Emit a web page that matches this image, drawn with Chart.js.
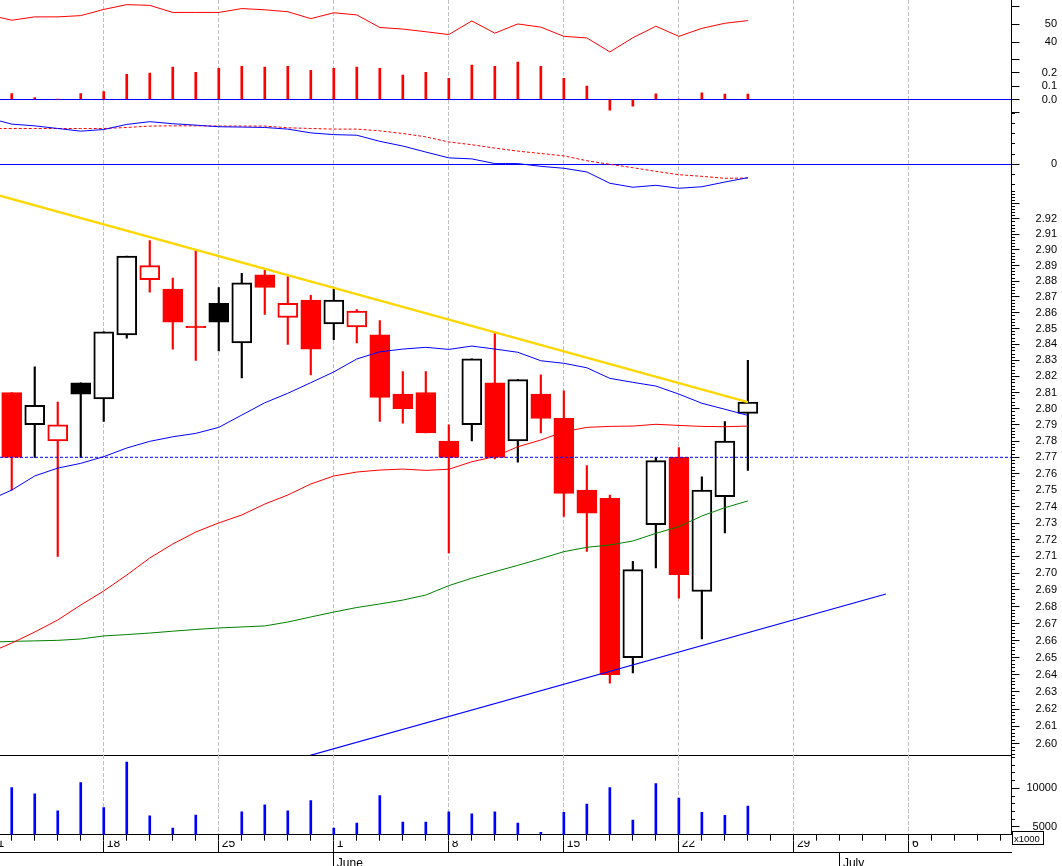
<!DOCTYPE html>
<html><head><meta charset="utf-8">
<script src="https://cdn.jsdelivr.net/npm/chart.js@4.4.1/dist/chart.umd.min.js"></script>
<style>
html,body{margin:0;padding:0;background:#fff;overflow:hidden;}
#wrap{position:relative;width:1062px;height:866px;overflow:hidden;background:#fff;}
#wrap canvas{position:absolute;left:0;}
#x1000{position:absolute;left:1012px;top:831px;width:29px;height:12px;border:1px solid #000;font:9.5px "Liberation Sans",Arial,sans-serif;line-height:13px;padding-left:1px;color:#000;box-sizing:content-box;white-space:nowrap;overflow:hidden;}
</style></head><body>
<div id="wrap">
<canvas id="cRsi" width="1062" height="100" style="top:0;width:1062px;height:100px"></canvas>
<canvas id="cHist" width="1062" height="130" style="top:0;width:1062px;height:130px"></canvas>
<canvas id="cMacd" width="1062" height="90" style="top:100px;width:1062px;height:90px"></canvas>
<canvas id="cPrice" width="1062" height="566" style="top:190px;width:1062px;height:566px"></canvas>
<canvas id="cVol" width="1062" height="111" style="top:755px;width:1062px;height:111px"></canvas>
<div id="x1000">x1000</div>
</div>
<script>
// ---------------- DATA ----------------
const priorDay = '2015-05-11';            // just off the left edge
const tradingDays = ['2015-05-12','2015-05-13','2015-05-14','2015-05-15','2015-05-18','2015-05-19','2015-05-20','2015-05-21','2015-05-22','2015-05-25','2015-05-26','2015-05-27','2015-05-28','2015-05-29','2015-06-01','2015-06-02','2015-06-03','2015-06-04','2015-06-05','2015-06-08','2015-06-09','2015-06-10','2015-06-11','2015-06-12','2015-06-15','2015-06-16','2015-06-17','2015-06-18','2015-06-19','2015-06-22','2015-06-23','2015-06-24','2015-06-25'];
const futureDays = ['2015-06-26','2015-06-29','2015-06-30','2015-07-01','2015-07-02','2015-07-03','2015-07-06','2015-07-07','2015-07-08','2015-07-09','2015-07-10'];
const monthNames = ['January','February','March','April','May','June','July','August','September','October','November','December'];

const open  = [2.810,2.790,2.780,2.816,2.806,2.846,2.881,2.875,2.8515,2.866,2.841,2.884,2.857,2.868,2.853,2.851,2.846,2.809,2.810,2.780,2.790,2.816,2.780,2.809,2.794,2.750,2.745,2.650,2.729,2.770,2.689,2.746,2.797];
const high  = [2.810,2.826,2.804,2.816,2.848,2.896,2.906,2.882,2.900,2.876,2.885,2.887,2.883,2.871,2.875,2.862,2.855,2.823,2.823,2.790,2.831,2.847,2.818,2.821,2.811,2.765,2.747,2.707,2.770,2.776,2.758,2.792,2.830];
const low   = [2.750,2.770,2.710,2.770,2.792,2.844,2.873,2.837,2.830,2.836,2.819,2.859,2.840,2.821,2.843,2.841,2.792,2.791,2.785,2.712,2.780,2.769,2.767,2.785,2.734,2.713,2.635,2.641,2.703,2.685,2.661,2.724,2.762];
const close = [2.770,2.802,2.790,2.809,2.848,2.896,2.890,2.854,2.8505,2.854,2.879,2.876,2.866,2.837,2.868,2.861,2.807,2.800,2.785,2.770,2.831,2.770,2.818,2.794,2.748,2.736,2.640,2.702,2.768,2.699,2.750,2.780,2.804];
const firstPrevClose = 2.79;

// volume in thousands (null = no trading)
const volume = [10100,9300,7100,10750,7500,13400,6450,4850,6550,null,6950,7850,7100,8400,4850,5500,9050,5650,5650,6950,6700,6950,5500,4300,6900,7950,10100,5900,10600,8750,6900,6500,7700];
const histogram = [0.045,0.014,0.003,0.045,0.060,0.190,0.198,0.244,0.205,0.235,0.250,0.244,0.250,0.220,0.235,0.244,0.235,0.183,0.205,0.159,0.259,0.250,0.281,0.249,0.160,0.100,-0.080,-0.050,0.042,0.004,0.050,0.040,0.040];

// line series: first value belongs to priorDay
const rsi    = [55.3,52.3,54.2,54.2,54.9,58.4,61.1,60.7,56.7,56.7,56.7,58.9,58.2,57.1,53.2,56.5,55.3,48.2,47.3,45.8,44.2,51.9,45.0,50.2,48.4,43.2,42.3,34.4,42.4,48.9,43.2,47.7,50.6,52.1];
const macd   = [0.0453,0.0394,0.0377,0.0351,0.0325,0.0341,0.0391,0.0418,0.0398,0.0384,0.0368,0.0365,0.0361,0.0345,0.0308,0.0291,0.0285,0.0225,0.0179,0.0120,0.0063,0.0053,0.0007,0.0007,-0.0020,-0.0039,-0.0075,-0.0186,-0.0225,-0.0206,-0.0235,-0.0220,-0.0174,-0.0131];
const signal = [0.0351,0.0351,0.0351,0.0351,0.0351,0.0351,0.0361,0.0375,0.0377,0.0377,0.0375,0.0375,0.0375,0.0358,0.0351,0.0345,0.0345,0.0328,0.0302,0.0269,0.0219,0.0192,0.0159,0.0129,0.0106,0.0083,0.0035,0.0000,-0.0033,-0.0069,-0.0102,-0.0118,-0.0137,-0.0135];
const maBlue  = [2.7437,2.7500,2.7586,2.7634,2.7663,2.7704,2.7757,2.7798,2.7826,2.7847,2.7884,2.7960,2.8036,2.8095,2.8161,2.8228,2.8309,2.8354,2.8371,2.8382,2.8369,2.8390,2.8371,2.8351,2.8298,2.8282,2.8254,2.8188,2.8163,2.8140,2.8090,2.8033,2.7996,2.7958];
const maRed   = [2.6527,2.6585,2.6650,2.6721,2.6810,2.6893,2.6988,2.7090,2.7174,2.7246,2.7301,2.7349,2.7415,2.7470,2.7537,2.7586,2.7610,2.7622,2.7628,2.7620,2.7627,2.7673,2.7704,2.7765,2.7806,2.7857,2.7884,2.7890,2.7892,2.7903,2.7896,2.7890,2.7888,2.7892];
const maGreen = [2.6590,2.6595,2.6598,2.6601,2.6609,2.6627,2.6635,2.6644,2.6655,2.6665,2.6674,2.6680,2.6686,2.6709,2.6739,2.6768,2.6795,2.6816,2.6839,2.6869,2.6925,2.6969,2.7008,2.7046,2.7086,2.7128,2.7154,2.7168,2.7192,2.7238,2.7278,2.7343,2.7393,2.7434];

// trend lines: [day index, price]
const resistanceLine = [[-1, 2.937], [32, 2.804]];
const supportLine    = [[12, 2.5897], [38, 2.6875]];
const supportLevel   = 2.77;

// tick labels
const rsiTickLabels   = ['50','40'];
const rsiTickValues   = [60,50,40,30];
const histTickLabels  = ['0.2','0.1','0.0'];
const histTickValues  = [0.2,0.1,0,-0.1];
const macdTickLabels  = ['0'];
const priceTickLabels = ['2.92','2.91','2.90','2.89','2.88','2.87','2.86','2.85','2.84','2.83','2.82','2.81','2.80','2.79','2.78','2.77','2.76','2.75','2.74','2.73','2.72','2.71','2.70','2.69','2.68','2.67','2.66','2.65','2.64','2.63','2.62','2.61','2.60'];
const volTickLabels   = ['10000','5000'];

// ---------------- LAYOUT / STYLE ----------------
const FONT = '"Liberation Sans", Arial, Helvetica, sans-serif';
const W = 1062, AXIS_X = 1011.5, LABEL_RIGHT = 1057;
const X_MIN = -0.51, X_MAX = 43.46;
const TICK_LEN = 8, MINOR_LEN = 3;
const GRID_GRAY = '#c0c0c0', NONE = 'rgba(0,0,0,0)';
const RED = '#ff0000', BLUE = '#0000ff', GREEN = '#008000', GOLD = '#ffd700', BLACK = '#000000';
Chart.defaults.font.family = FONT;

const axisDays = [priorDay, ...tradingDays, ...futureDays];
const dow = d => new Date(d + 'T00:00:00Z').getUTCDay();
const dayTicks = axisDays.map((d, k) => k - 1);
const mondays = [];
axisDays.forEach((d, k) => { if (dow(d) === 1) mondays.push({x: k - 1, label: String(Number(d.slice(8)))}); });
const mondaySet = new Set(mondays.map(m => m.x));
const monthStarts = [];
axisDays.forEach((d, k) => { if (k > 0 && d.slice(5, 7) !== axisDays[k - 1].slice(5, 7)) monthStarts.push({x: k - 1, label: monthNames[Number(d.slice(5, 7)) - 1]}); });

function labelMap(labels) {
  const vals = labels.map(Number);
  return v => { const i = vals.findIndex(x => Math.abs(x - v) < 1e-7); return i >= 0 ? labels[i] : ''; };
}

function xAxis(showGrid, bottomBorder) {
  return {
    type: 'linear', position: 'bottom', min: X_MIN, max: X_MAX, offset: false, bounds: 'data',
    afterBuildTicks: s => { s.ticks = dayTicks.map(v => ({value: v})); },
    ticks: {display: false, autoSkip: false},
    grid: {display: showGrid, drawTicks: false, offset: false, lineWidth: 1,
      color: c => (c.tick && mondaySet.has(c.tick.value)) ? GRID_GRAY : NONE},
    border: {display: bottomBorder, color: BLACK, width: 1, dash: [4, 2]},
    afterFit: s => { s.height = 0; s.paddingLeft = 0; s.paddingRight = 0; }
  };
}
function hiddenX() {
  return {type: 'linear', display: false, min: X_MIN, max: X_MAX, offset: false, bounds: 'data', grid: {offset: false}};
}
function yAxis(o) {
  const labelOf = labelMap(o.labels);
  const all = o.major.map(v => ({value: v, major: true}))
    .concat((o.minor || []).map(v => ({value: v, major: false})))
    .sort((a, b) => a.value - b.value);
  return {
    type: o.type || 'linear', position: 'right', min: o.min, max: o.max, bounds: 'data', beginAtZero: false,
    afterBuildTicks: s => { s.ticks = all.map(t => ({value: t.value, major: t.major})); },
    // labels right-aligned on the axis' right edge
    ticks: {autoSkip: false, crossAlign: 'far', padding: 4,
      color: BLACK, font: {family: FONT, size: 11}, callback: v => labelOf(v)},
    grid: {drawTicks: true, tickLength: TICK_LEN, tickColor: BLACK, tickWidth: 1, lineWidth: 1,
      color: c => (o.zeroColor && c.tick && Math.abs(c.tick.value) < 1e-12) ? o.zeroColor : NONE,
      tickBorderDash: c => (c.tick && !c.tick.major) ? [MINOR_LEN, 60] : []},
    border: {display: true, color: BLACK, width: 1},
    afterFit: s => { s.width = LABEL_RIGHT - AXIS_X; s.paddingTop = 0; s.paddingBottom = 0; }
  };
}
function makeChart(id, datasets, scales, padBottom) {
  return new Chart(document.getElementById(id), {
    type: 'line',
    data: {datasets},
    options: {
      responsive: false, maintainAspectRatio: false, animation: false, devicePixelRatio: 1, events: [],
      layout: {padding: {left: 0, right: W - LABEL_RIGHT, top: 0, bottom: padBottom || 0}},
      plugins: {legend: {display: false}, tooltip: {enabled: false}},
      scales
    }
  });
}
const lineXY = arr => arr.map((v, k) => ({x: k - 1, y: v}));
const lineDs = (data, color, extra) => Object.assign({type: 'line', data, borderColor: color, borderWidth: 1,
  pointRadius: 0, tension: 0, fill: false, order: 0}, extra || {});
const idx = tradingDays.map((d, i) => i);

// ---------------- RSI ----------------
makeChart('cRsi', [lineDs(lineXY(rsi), RED)], {
  x: xAxis(true, false),
  y: yAxis({min: 7.23, max: 63.73, major: rsiTickValues, labels: rsiTickLabels})
});

// ---------------- HISTOGRAM ----------------
makeChart('cHist', [
  lineDs([{x: X_MIN, y: 0}, {x: X_MAX, y: 0}], BLUE, {order: 1}),
  {type: 'bar', data: idx.map(i => ({x: i, y: histogram[i]})), backgroundColor: RED,
    barThickness: 2, grouped: false, borderWidth: 0, order: 0}
], {
  x: hiddenX(),
  y: yAxis({min: -0.22932, max: 0.74812, major: histTickValues, labels: histTickLabels})
});

// ---------------- MACD ----------------
makeChart('cMacd', [
  lineDs(lineXY(macd), BLUE),
  lineDs(lineXY(signal), RED, {borderDash: [3, 2]})
], {
  x: xAxis(true, false),
  y: yAxis({min: -0.0252, max: 0.06304, major: [0], minor: [-0.02,-0.01,0.01,0.02,0.03,0.04,0.05], labels: macdTickLabels, zeroColor: BLUE})
});

// ---------------- PRICE ----------------
const candleColor = idx.map(i => (close[i] >= (i === 0 ? firstPrevClose : close[i - 1])) ? BLACK : RED);
const candleFill = idx.map(i => close[i] >= open[i] ? '#ffffff' : candleColor[i]);
const priceMajor = priceTickLabels.map(Number).concat([2.93]);
const priceMinor = [];
for (let k = 1297; k <= 1469; k++) { if (k % 5 !== 0) priceMinor.push(Number((k * 0.002).toFixed(3))); }

makeChart('cPrice', [
  lineDs(resistanceLine.map(([x, y]) => ({x, y})), GOLD, {borderWidth: 2.5}),
  lineDs(supportLine.map(([x, y]) => ({x, y})), BLUE, {borderWidth: 1.2}),
  lineDs([{x: X_MIN, y: supportLevel}, {x: X_MAX, y: supportLevel}], BLUE, {borderDash: [3, 2]}),
  lineDs(lineXY(maBlue), BLUE),
  lineDs(lineXY(maRed), RED),
  lineDs(lineXY(maGreen), GREEN),
  {type: 'bar', data: idx.map(i => ({x: i, y: [open[i], close[i]]})), backgroundColor: candleFill,
    borderColor: candleColor, borderWidth: 2, borderSkipped: false, barThickness: 20, grouped: false, order: 1},
  {type: 'bar', data: idx.map(i => ({x: i, y: [low[i], high[i]]})), backgroundColor: candleColor,
    borderWidth: 0, barThickness: 1.5, grouped: false, order: 2}
], {
  x: xAxis(true, true),
  y: yAxis({type: 'logarithmic', min: 2.5935, max: 2.9387, major: priceMajor, minor: priceMinor, labels: priceTickLabels})
}, 1);

// ---------------- VOLUME + DATE AXIS ----------------
const volMinor = [6000,7000,8000,9000,11000,12000,13000,14000];
makeChart('cVol', [
  {type: 'bar', data: idx.map(i => ({x: i, y: volume[i]})), backgroundColor: BLUE, barThickness: 2,
    grouped: false, borderWidth: 0}
], {
  x: {
    type: 'linear', position: 'bottom', weight: 0, min: X_MIN, max: X_MAX, offset: false, bounds: 'data',
    afterBuildTicks: s => { s.ticks = dayTicks.map(v => ({value: v})); },
    ticks: {display: false, autoSkip: false},
    grid: {display: true, drawTicks: true, tickLength: 6, tickColor: BLACK, tickWidth: 1, offset: false, lineWidth: 1,
      color: c => (c.tick && mondaySet.has(c.tick.value)) ? GRID_GRAY : NONE},
    border: {display: true, color: BLACK, width: 1, dash: [4, 2]},
    afterFit: s => { s.height = 6; s.paddingLeft = 0; s.paddingRight = 0; }
  },
  xw: {
    type: 'linear', position: 'bottom', weight: 1, min: X_MIN, max: X_MAX, offset: false, bounds: 'data',
    afterBuildTicks: s => { s.ticks = mondays.map(m => ({value: m.x})); },
    ticks: {autoSkip: false, maxRotation: 0, minRotation: 0, align: 'start', labelOffset: 3, padding: -16,
      color: BLACK, font: {family: FONT, size: 12},
      callback: v => { const m = mondays.find(mm => mm.x === v); return m ? m.label : ''; }},
    grid: {drawOnChartArea: false, drawTicks: true, tickLength: 11.7, tickColor: BLACK, tickWidth: 1, offset: false},
    border: {display: false},
    afterFit: s => { s.height = 11.7; s.paddingLeft = 0; s.paddingRight = 0; }
  },
  xm: {
    type: 'linear', position: 'bottom', weight: 2, min: X_MIN, max: X_MAX, offset: false, bounds: 'data',
    afterBuildTicks: s => { s.ticks = monthStarts.map(m => ({value: m.x})); },
    ticks: {autoSkip: false, maxRotation: 0, minRotation: 0, align: 'start', labelOffset: 3, padding: -9.5,
      color: BLACK, font: {family: FONT, size: 12},
      callback: v => { const m = monthStarts.find(mm => mm.x === v); return m ? m.label : ''; }},
    grid: {drawOnChartArea: false, drawTicks: true, tickLength: 13.6, tickColor: BLACK, tickWidth: 1, offset: false},
    border: {display: true, color: BLACK, width: 1},
    afterFit: s => { s.height = 13.6; s.paddingLeft = 0; s.paddingRight = 0; }
  },
  y: yAxis({min: 4005, max: 14302, major: volTickLabels.map(Number), minor: volMinor, labels: volTickLabels})
});
</script>
</body></html>
